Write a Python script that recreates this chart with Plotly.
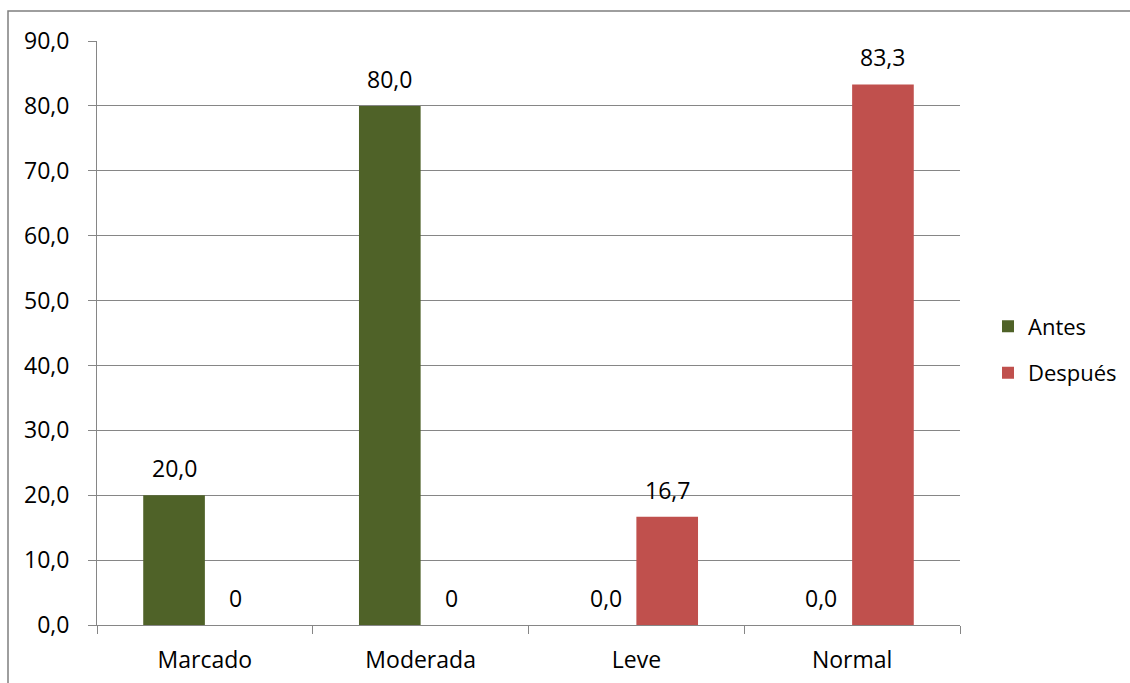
import plotly.graph_objects as go

categories = ["Marcado", "Moderada", "Leve", "Normal"]
antes = [20.0, 80.0, 0.0, 0.0]
despues = [0.0, 0.0, 16.7, 83.3]
antes_labels = ["20,0", "80,0", "0,0", "0,0"]
despues_labels = ["0", "0", "16,7", "83,3"]
y_ticks = [0, 10, 20, 30, 40, 50, 60, 70, 80, 90]

FONT = "Open Sans"
FS = 23
GRID = "#868686"

W, H = 1130, 683
ML, MR, MT, MB = 97, 4, 41, 58
PLOT_RIGHT = 960                      # right edge of the plotting area, px
inner_w = W - ML - MR
x_dom_end = (PLOT_RIGHT - ML) / inner_w
plot_w = PLOT_RIGHT - ML
BARGAP = 1.5 / 3.5
bar_px = plot_w / len(categories) * (1 - BARGAP) / 2

fig = go.Figure()
series = [("Antes", antes, antes_labels, "#4F6228"),
          ("Después", despues, despues_labels, "#C0504D")]
for name, vals, _, color in series:
    fig.add_trace(go.Bar(
        x=categories, y=vals, name=name, legendgroup=name,
        marker=dict(color=color, line=dict(width=0)),
    ))

# value labels above each bar
annotations = []
for k, (name, vals, labels, _) in enumerate(series):
    shift = (k - 0.5) * bar_px
    for cat, v, lab in zip(categories, vals, labels):
        annotations.append(dict(
            x=cat, y=v, xref="x", yref="y", text=lab, showarrow=False,
            xshift=shift, yshift=9, yanchor="bottom",
            font=dict(family=FONT, size=FS, color="#000000"),
        ))

fig.update_layout(
    width=W, height=H,
    margin=dict(l=ML, r=MR, t=MT, b=MB),
    paper_bgcolor="white", plot_bgcolor="white",
    barmode="group", bargap=BARGAP, bargroupgap=0,
    separators=",.",
    font=dict(family=FONT, size=FS, color="#000000"),
    showlegend=True,
    legend=dict(
        x=(988 - ML) / inner_w, xanchor="left", y=0.471, yanchor="middle",
        font=dict(family=FONT, size=22),
        tracegroupgap=15, traceorder="grouped",
        bgcolor="rgba(0,0,0,0)",
    ),
    annotations=annotations,
    shapes=[dict(
        type="rect", xref="paper", yref="paper",
        x0=(8 - ML) / inner_w, x1=1.4,
        y0=-0.3, y1=1 + (MT - 11) / (H - MT - MB),
        line=dict(color="#7F7F7F", width=1.5), fillcolor="rgba(0,0,0,0)",
        layer="below",
    )],
)

fig.update_xaxes(
    type="category", domain=[0, x_dom_end], showgrid=False,
    showline=True, linecolor=GRID, linewidth=1,
    ticks="outside", tickson="boundaries", ticklen=8, tickcolor=GRID,
    ticklabelstandoff=14,
    tickfont=dict(family=FONT, size=FS),
)
fig.update_yaxes(
    range=[0, 90], tickvals=y_ticks, tickformat=".1f",
    showgrid=True, gridcolor=GRID, gridwidth=1,
    showline=True, linecolor=GRID, linewidth=1,
    ticks="outside", ticklen=8, tickcolor=GRID,
    ticklabelstandoff=14, zeroline=False,
    tickfont=dict(family=FONT, size=FS),
)

fig.write_html("out.html")
